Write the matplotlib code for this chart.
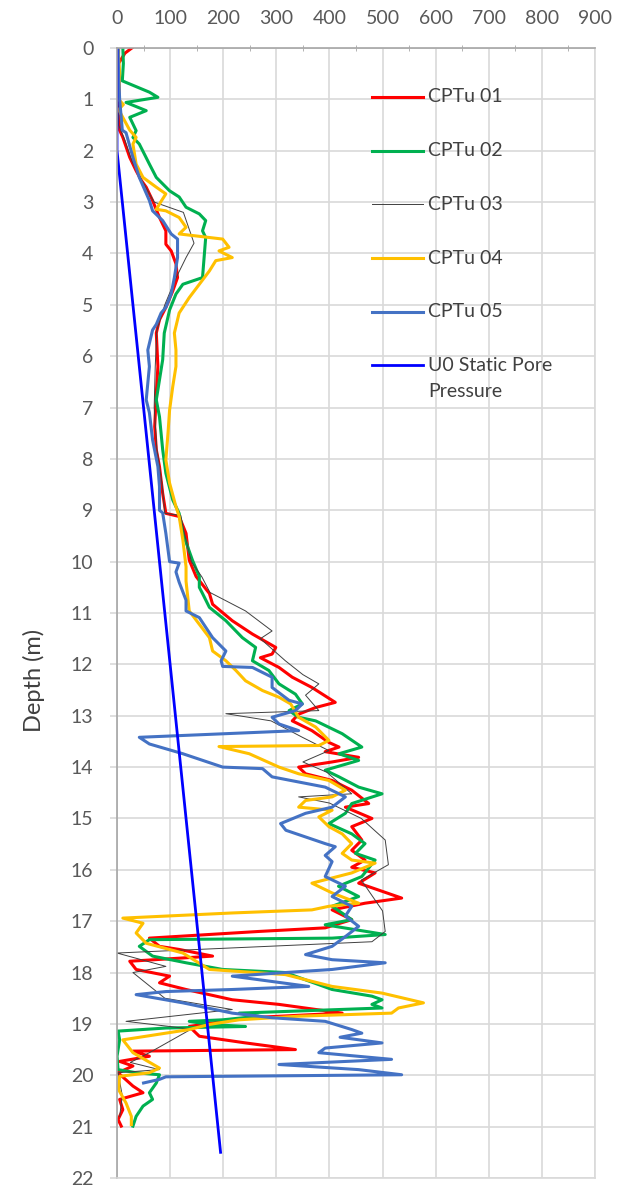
import matplotlib.pyplot as plt
from matplotlib.ticker import MultipleLocator

plt.rcParams['font.family'] = ['Lato', 'DejaVu Sans']

# CPTu 01 (red)
d01 = [0, 0.1, 0.3, 1.0, 1.6, 1.74, 2.13, 2.39, 2.58, 2.71, 2.97, 3.3, 3.56, 3.82, 3.95, 4.2, 4.47, 4.73,
       5.05, 5.29, 5.55, 6.2, 6.72, 7.37, 7.82, 8.15, 8.67, 9.06, 9.12, 9.45, 9.97, 10.29, 10.62, 10.83,
       11.15, 11.41, 11.67, 11.8, 11.87, 12.06, 12.25, 12.45, 12.74, 12.84, 12.97, 13.1, 13.29, 13.52,
       13.61, 13.7, 13.81, 13.9, 14.0, 14.13, 14.26, 14.45, 14.71, 14.78, 15.0, 15.16, 15.42, 15.62,
       15.81, 15.95, 16.06, 16.26, 16.55, 16.65, 16.78, 16.97, 17.13, 17.2, 17.33, 17.49, 17.55, 17.68,
       17.78, 17.94, 18.07, 18.2, 18.33, 18.53, 18.62, 18.79, 18.88, 18.95, 19.05, 19.24, 19.37, 19.5,
       19.53, 19.63, 19.73, 19.82, 19.95, 20.21, 20.34, 20.47, 20.67, 20.86, 20.99]
v01 = [28, 15, 3, 4, 5, 11, 24, 36, 46, 55, 67, 80, 92, 92, 102, 111, 114, 105,
       92, 80, 74, 77, 74, 71, 74, 80, 86, 92, 117, 130, 136, 149, 174, 180,
       217, 255, 299, 292, 270, 305, 330, 367, 411, 374, 342, 330, 367, 399,
       418, 392, 455, 405, 342, 355, 405, 442, 474, 430, 480, 442, 461, 442,
       467, 442, 486, 455, 536, 467, 405, 442, 392, 267, 61, 80, 117, 180,
       24, 36, 99, 80, 130, 217, 305, 424, 249, 199, 136, 155, 242, 336,
       30, 61, 5, 30, 2, 30, 49, 5, 11, 2, 8]

# CPTu 02 (green)
d02 = [0, 0.3, 0.64, 0.86, 0.96, 1.06, 1.22, 1.35, 1.61, 1.74, 1.87, 2.26, 2.52, 2.78, 2.9, 3.1, 3.23,
       3.36, 3.56, 3.69, 4.08, 4.47, 4.6, 4.79, 5.1, 5.55, 6.07, 6.46, 6.85, 7.18, 7.82, 8.28, 8.8,
       9.06, 9.45, 9.97, 10.29, 10.5, 10.62, 10.89, 11.15, 11.48, 11.67, 11.93, 12.12, 12.38, 12.58,
       12.77, 12.9, 13.03, 13.1, 13.35, 13.61, 13.74, 13.87, 14.06, 14.19, 14.39, 14.52, 14.71, 14.9,
       15.1, 15.3, 15.49, 15.68, 15.81, 16.13, 16.32, 16.52, 16.71, 16.97, 17.07, 17.26, 17.33, 17.36,
       17.49, 17.68, 17.81, 17.94, 18.0, 18.33, 18.46, 18.53, 18.62, 18.69, 18.79, 18.85, 18.92, 18.95,
       19.01, 19.05, 19.08, 19.14, 19.31, 19.63, 19.89, 19.95, 19.99, 20.15, 20.34, 20.47, 20.6, 20.8,
       20.99]
v02 = [11, 12, 10, 61, 77, 17, 55, 24, 36, 30, 42, 61, 74, 99, 117, 130, 155,
       167, 161, 167, 164, 161, 124, 111, 99, 89, 86, 80, 74, 80, 86, 92, 105,
       117, 124, 142, 155, 155, 161, 174, 205, 236, 261, 255, 286, 305, 336,
       349, 324, 342, 374, 424, 461, 418, 455, 392, 418, 455, 499, 442, 430,
       399, 442, 467, 449, 486, 461, 417, 455, 405, 442, 392, 505, 405, 61,
       42, 67, 130, 199, 317, 405, 480, 499, 480, 499, 230, 267, 199, 136,
       174, 242, 92, 2, 5, 0, 2, 36, 80, 74, 61, 67, 49, 36,
       30]

# CPTu 03 (thin dark line)
d03 = [0, 1.5, 1.8, 2.2, 2.6, 3.0, 3.2, 3.5, 3.8, 4.08, 4.5, 5.0, 5.5, 6.2, 7.0, 7.8, 8.5, 9.06, 9.1,
       9.5, 10.0, 10.3, 10.6, 10.96, 11.35, 11.5, 11.93, 12.2, 12.38, 12.6, 12.9, 12.96, 13.1, 13.42,
       13.68, 13.9, 14.1, 14.52, 14.58, 14.7, 15.0, 15.42, 15.9, 16.2, 16.5, 16.8, 17.2, 17.4, 17.62,
       17.88, 18.0, 18.5, 18.72, 18.95, 19.1, 19.56, 19.75, 19.89, 19.95, 20.4, 20.8]
v03 = [5, 3, 15, 28, 48, 70, 125, 135, 145, 130, 110, 90, 75, 72, 70, 75, 85, 90, 120,
       128, 140, 160, 175, 242, 292, 270, 317, 350, 380, 355, 380, 205, 290, 349,
       399, 350, 395, 442, 342, 400, 460, 505, 511, 460, 480, 500, 505, 480, 0,
       92, 30, 90, 217, 17, 140, 61, 25, 80, 2, 10, 5]

# CPTu 04 (orange)
d04 = [0, 0.5, 1.0, 1.1, 1.2, 1.6, 1.74, 1.87, 2.26, 2.52, 2.71, 2.84, 2.97, 3.14, 3.17, 3.3, 3.49,
       3.62, 3.72, 3.88, 3.95, 4.08, 4.14, 4.34, 4.6, 4.86, 5.16, 5.55, 5.88, 6.2, 6.59, 7.05, 7.5,
       8.02, 8.47, 8.93, 9.12, 9.58, 10.1, 10.38, 10.96, 11.22, 11.48, 11.74, 11.93, 12.12, 12.32,
       12.51, 12.64, 12.77, 13.03, 13.22, 13.48, 13.58, 13.6, 13.74, 14.0, 14.13, 14.26, 14.45, 14.58,
       14.65, 14.78, 14.84, 14.97, 15.16, 15.3, 15.49, 15.68, 15.81, 15.87, 16.06, 16.26, 16.45, 16.65,
       16.71, 16.78, 16.84, 16.94, 17.04, 17.23, 17.43, 17.62, 17.94, 18.04, 18.27, 18.4, 18.59, 18.69,
       18.79, 18.85, 18.92, 19.01, 19.11, 19.18, 19.31, 19.56, 19.86, 19.95, 20.02, 20.28, 20.54, 20.8,
       20.96]
v04 = [2, 5, 3, 12, 3, 24, 36, 30, 36, 49, 74, 92, 84, 74, 92, 117, 130,
       117, 199, 211, 192, 217, 186, 174, 155, 136, 117, 108, 111, 111, 105, 99, 96,
       92, 99, 111, 117, 124, 130, 130, 136, 155, 174, 180, 205, 224, 242,
       274, 305, 327, 342, 374, 399, 380, 192, 249, 305, 342, 399, 430, 405,
       355, 342, 405, 380, 399, 424, 442, 424, 442, 486, 442, 367, 405, 455,
       399, 367, 217, 11, 49, 36, 55, 124, 174, 317, 405, 499, 577, 530,
       517, 342, 230, 174, 136, 92, 11, 30, 80, 61, 5, 3, 17, 27,
       27]

# CPTu 05 (blue)
d05 = [0, 0.5, 1.0, 1.6, 1.65, 2.13, 2.52, 2.97, 3.17, 3.36, 3.62, 3.72, 4.08, 4.47, 4.79, 5.05, 5.16,
       5.38, 5.49, 5.88, 6.2, 6.85, 7.1, 7.63, 8.15, 8.54, 9.0, 9.05, 9.45, 10.0, 10.03, 10.2, 10.4,
       10.75, 10.96, 11.09, 11.48, 11.74, 11.93, 12.04, 12.06, 12.25, 12.45, 12.7, 12.77, 12.9, 13.03,
       13.16, 13.29, 13.42, 13.55, 13.74, 14.0, 14.03, 14.19, 14.39, 14.58, 14.78, 14.9, 15.1, 15.23,
       15.36, 15.49, 15.55, 15.72, 15.84, 16.13, 16.32, 16.52, 16.71, 16.9, 17.1, 17.3, 17.49, 17.65,
       17.75, 17.81, 17.94, 18.0, 18.07, 18.27, 18.33, 18.37, 18.43, 18.59, 18.79, 18.88, 18.95, 19.11,
       19.18, 19.26, 19.37, 19.47, 19.56, 19.69, 19.79, 19.89, 19.99, 20.03, 20.08, 20.15]
v05 = [2, 3, 5, 10, 17, 30, 42, 61, 67, 86, 102, 114, 114, 108, 102, 92, 83,
       74, 67, 58, 61, 55, 61, 67, 77, 80, 80, 86, 92, 99, 117, 111, 117,
       130, 130, 155, 180, 205, 196, 199, 255, 292, 292, 324, 349, 336, 292,
       305, 342, 42, 61, 124, 199, 274, 292, 392, 430, 405, 355, 308, 318,
       355, 392, 411, 392, 405, 392, 430, 405, 442, 430, 455, 430, 405, 355,
       405, 505, 405, 317, 217, 361, 217, 92, 36, 124, 217, 292, 392, 442,
       461, 420, 499, 392, 380, 517, 305, 455, 536, 92, 80, 50]

# U0 static pore pressure
d_u0 = [0, 2.0, 21.5]
v_u0 = [0, 0, 195]

labels = ['CPTu 01', 'CPTu 02', 'CPTu 03', 'CPTu 04', 'CPTu 05', 'U0 Static Pore\nPressure']
colors = ['#ff0000', '#00b050', '#404040', '#ffc000', '#4472c4', '#0000ff']
widths = [2.2, 2.2, 0.7, 2.2, 2.2, 2.0]
series = [(v01, d01), (v02, d02), (v03, d03), (v04, d04), (v05, d05), (v_u0, d_u0)]

W, H = 621, 1190
fig = plt.figure(figsize=(W / 100, H / 100), dpi=100)
L, R, T, B = 117, 595, 48, 1178
ax = fig.add_axes([L / W, 1 - B / H, (R - L) / W, (B - T) / H])

for (v, d), col, lw in zip(series, colors, widths):
    ax.plot(v, d, color=col, lw=lw, solid_joinstyle='round')

ax.set_xlim(0, 900)
ax.set_ylim(22, 0)
ax.set_xticks(range(0, 1000, 100))
ax.set_yticks(range(0, 23))
ax.xaxis.set_minor_locator(MultipleLocator(50))
ax.xaxis.tick_top()
ax.grid(True, which='major', color='#d9d9d9', lw=1.2)
ax.set_axisbelow(True)
for s in ['top', 'left']:
    ax.spines[s].set_color('#a6a6a6')
    ax.spines[s].set_linewidth(1.2)
for s in ['right', 'bottom']:
    ax.spines[s].set_color('#d9d9d9')
    ax.spines[s].set_linewidth(1.2)

ax.tick_params(axis='x', which='major', length=0, pad=15, labelsize=14, labelcolor='#595959')
ax.tick_params(axis='x', which='minor', length=4, direction='inout', color='#a6a6a6')
ax.tick_params(axis='y', which='major', length=5, width=1.2, color='#d9d9d9', pad=12,
               labelsize=14, labelcolor='#595959')

ax.set_ylabel('Depth (m)', fontsize=17, color='#404040')
ax.yaxis.set_label_coords(-0.15, 0.44)

# legend drawn by hand: the two-line entry keeps its line on the first row
for i, (lab, col, lw) in enumerate(zip(labels, colors, widths)):
    py = 97 + i * 53.7
    yf = 1 - (py - T) / (B - T)
    ax.plot([0.533, 0.640], [yf, yf], transform=ax.transAxes, color=col, lw=lw, clip_on=False)
    for k, line in enumerate(lab.split('\n')):
        ax.text(0.651, yf - k * 26 / (B - T), line, transform=ax.transAxes, va='center', ha='left',
                fontsize=14, color='#404040')

fig.savefig('out.png', dpi=100)
